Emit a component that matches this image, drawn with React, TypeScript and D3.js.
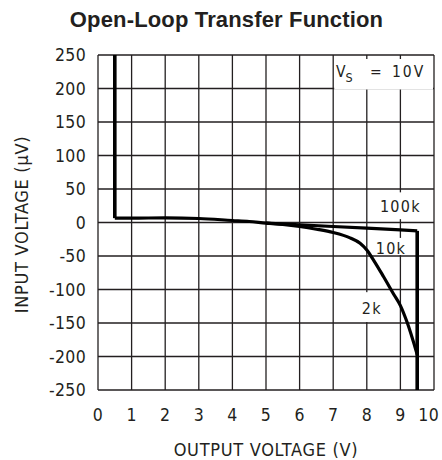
import { useEffect, useRef } from 'react'
import * as d3 from 'd3'

// output voltage (V) vs input voltage (uV)
const xTicks = [0, 1, 2, 3, 4, 5, 6, 7, 8, 9, 10]
const yTicks = [250, 200, 150, 100, 50, 0, -50, -100, -150, -200, -250]
const loadLowV = [0.5, 1, 2, 3, 4, 4.5, 5, 5.5, 6, 6.5, 7, 7.5, 7.8, 8, 8.2, 8.5, 8.8, 9.0, 9.2, 9.5]
const loadLowUV = [6.5, 6.5, 7, 6, 3, 1.5, -1, -3, -6, -10, -15, -23, -31, -41, -56, -81, -107, -124, -149, -197]
const load100kV = [5, 6, 7, 8, 9, 9.5]
const load100kUV = [-1, -3.5, -6, -8.5, -11, -12.5]
const railLowV = [0.5, 0.5]
const railLowUV = [250, 6.5]
const railHighV = [9.5, 9.5]
const railHighUV = [-12.5, -250]
const curveLabels = [
  { text: '100k', v: 9.0, uv: 15, box: [8.05, 9.95, 45, 5] },
  { text: '10k', v: 8.72, uv: -47, box: [8.25, 9.2, -23, -48.5] },
  { text: '2k', v: 8.15, uv: -137, box: [7.8, 8.57, -104, -148.5] },
]

const NARROW = "'Liberation Sans Narrow', 'DejaVu Sans Condensed', 'Liberation Sans', sans-serif"

export default function App() {
  const ref = useRef<SVGSVGElement | null>(null)
  useEffect(() => {
    document.body.style.margin = '0'
    if (!ref.current) return
    const W = 442, H = 460
    const m = { top: 55, right: 8, bottom: 70, left: 98 }
    const svg = d3.select(ref.current)
    svg.selectAll('*').remove()
    const x = d3.scaleLinear().domain([0, 10]).range([m.left, W - m.right])
    const y = d3.scaleLinear().domain([-250, 250]).range([H - m.bottom, m.top])
    const ink = '#231f20'

    svg.append('text').attr('x', 226.5).attr('y', 27).attr('text-anchor', 'middle')
      .attr('font-family', "'Liberation Sans', Arial, sans-serif").attr('font-weight', 'bold')
      .attr('font-size', 22).attr('letter-spacing', 0.15).attr('fill', ink).text('Open-Loop Transfer Function')

    const grid = svg.append('g').attr('stroke', ink).attr('stroke-width', 1.3)
    grid.selectAll('line.v').data(xTicks).join('line').attr('class', 'v')
      .attr('x1', d => x(d)).attr('x2', d => x(d)).attr('y1', y(250)).attr('y2', y(-250))
    grid.selectAll('line.h').data(yTicks).join('line').attr('class', 'h')
      .attr('x1', x(0)).attr('x2', x(10)).attr('y1', d => y(d)).attr('y2', d => y(d))

    // white boxes behind the labels
    svg.append('rect').attr('x', x(7) + 1).attr('y', y(250) + 4)
      .attr('width', x(10) - x(7) - 2).attr('height', y(200) - y(250) - 3).attr('fill', '#fff')
    curveLabels.forEach(l => {
      svg.append('rect').attr('x', x(l.box[0])).attr('y', y(l.box[2]))
        .attr('width', x(l.box[1]) - x(l.box[0])).attr('height', y(l.box[3]) - y(l.box[2])).attr('fill', '#fff')
    })

    const line = d3.line<[number, number]>().x(d => x(d[0])).y(d => y(d[1]))
    const curves = svg.append('g').attr('fill', 'none').attr('stroke', '#000').attr('stroke-width', 3.2)
    curves.append('path').attr('d', line.curve(d3.curveMonotoneX)(d3.zip(loadLowV, loadLowUV) as [number, number][]))
    curves.append('path').attr('d', line.curve(d3.curveLinear)(d3.zip(load100kV, load100kUV) as [number, number][]))
    curves.append('path').attr('stroke-width', 3.6).attr('d', line(d3.zip(railLowV, railLowUV) as [number, number][]))
    curves.append('path').attr('stroke-width', 3.6).attr('d', line(d3.zip(railHighV, railHighUV) as [number, number][]))

    const txt = svg.append('g').attr('font-family', NARROW).attr('fill', ink).attr('font-size', 17.5)
    txt.selectAll('text.xt').data(xTicks).join('text').attr('class', 'xt')
      .attr('x', d => d === 10 ? x(d) + 5 : x(d)).attr('y', 421)
      .attr('text-anchor', d => d === 10 ? 'end' : 'middle').attr('letter-spacing', 0.3)
      .text(d => String(d))
    txt.selectAll('text.yt').data(yTicks).join('text').attr('class', 'yt')
      .attr('x', 86).attr('y', d => y(d)).attr('dy', '0.36em').attr('text-anchor', 'end').attr('letter-spacing', 0.3)
      .text(d => String(d))
    txt.append('text').attr('x', x(5)).attr('y', 456).attr('font-size', 18).attr('text-anchor', 'middle')
      .attr('letter-spacing', 0.7).text('OUTPUT VOLTAGE (V)')
    txt.append('text').attr('transform', `translate(28,${y(0) + 2}) rotate(-90)`).attr('font-size', 18)
      .attr('text-anchor', 'middle').attr('letter-spacing', 0.7).text('INPUT VOLTAGE (μV)')

    const vs = txt.append('text').attr('x', 336).attr('y', 77).attr('font-size', 15.5)
    vs.append('tspan').text('V')
    vs.append('tspan').attr('dy', 5).attr('font-size', 12.5).text('S')
    vs.append('tspan').attr('dy', -5).attr('x', 370).text('=')
    vs.append('tspan').attr('x', 392).attr('letter-spacing', 2).text('10V')

    txt.selectAll('text.cl').data(curveLabels).join('text').attr('class', 'cl')
      .attr('x', d => x(d.v)).attr('y', d => y(d.uv)).attr('text-anchor', 'middle')
      .attr('font-size', 16).attr('letter-spacing', 1.3).text(d => d.text)
  }, [])
  return <svg ref={ref} width={442} height={460} style={{ display: 'block', background: '#fff' }} />
}
